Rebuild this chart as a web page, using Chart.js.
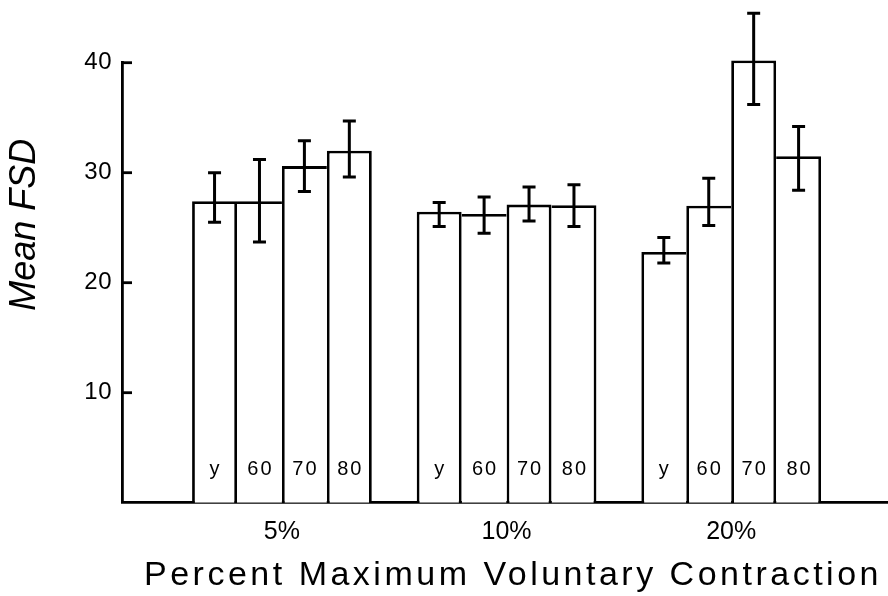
<!DOCTYPE html>
<html>
<head>
<meta charset="utf-8">
<script src="https://cdn.jsdelivr.net/npm/chart.js@4.4.0/dist/chart.umd.min.js"></script>
<style>
  body { margin: 0; background: #fff; }
</style>
</head>
<body>
<canvas id="fsdChart" width="888" height="596"></canvas>
<script>
// contraction levels and age groups
const categories = ['5%', '10%', '20%'];
const groupLabels = ['y', '60', '70', '80'];
const yTicks = [10, 20, 30, 40];

// mean FSD per age group (one value per contraction level)
const meanYoung = [27.4, 26.45, 22.8];
const mean60 = [27.4, 26.25, 27.0];
const mean70 = [30.6, 27.1, 40.2];
const mean80 = [32.0, 27.05, 31.5];

// error bar ends
const lowYoung = [25.5, 25.1, 21.8];
const highYoung = [30.0, 27.3, 24.1];
const low60 = [23.7, 24.5, 25.2];
const high60 = [31.2, 27.8, 29.5];
const low70 = [28.3, 25.6, 36.2];
const high70 = [32.9, 28.7, 44.5];
const low80 = [29.6, 25.1, 28.4];
const high80 = [34.7, 28.9, 34.2];

const means = [meanYoung, mean60, mean70, mean80];
const lows = [lowYoung, low60, low70, low80];
const highs = [highYoung, high60, high70, high80];

const W = 2.8;
const FONT = "'Liberation Sans', Arial, Helvetica, sans-serif";

// draw the shared edge only once, on the taller bar
function edges(s) {
    return function (c) {
        const i = c.dataIndex;
        const v = means[s][i];
        const prev = s > 0 ? means[s - 1][i] : -1;
        const next = s < means.length - 1 ? means[s + 1][i] : -1;
        return { top: W, bottom: 0, left: v > prev ? W : 0, right: v >= next ? W : 0 };
    };
}

// wrap a scale draw step with letter spacing and a small shift
function tweak(scale, fn, sp, dx, dy) {
    if (scale['_tw_' + fn]) return;
    const orig = scale[fn];
    scale[fn] = function () {
        const c = this.ctx;
        c.save();
        c.letterSpacing = sp;
        c.translate(dx, dy);
        orig.apply(this, arguments);
        c.restore();
    };
    scale['_tw_' + fn] = true;
}

const textPlugin = {
    id: 'textTweaks',
    afterLayout(chart) {
        tweak(chart.scales.x, 'drawTitle', '3.5px', 8, 0);
        tweak(chart.scales.y, 'drawLabels', '0.5px', 0, 0);
        tweak(chart.scales.y, 'drawTitle', '0px', 0, -58);
    }
};

const extrasPlugin = {
    id: 'extras',
    afterDatasetsDraw(chart) {
        const ctx = chart.ctx;
        const y = chart.scales.y;
        const area = chart.chartArea;
        ctx.save();
        ctx.strokeStyle = '#000';
        ctx.lineWidth = W;
        ctx.lineCap = 'butt';

        // inward tick marks on the y axis
        yTicks.forEach(v => {
            const py = y.getPixelForValue(v);
            ctx.beginPath();
            ctx.moveTo(area.left, py);
            ctx.lineTo(area.left + 10, py);
            ctx.stroke();
        });

        // error bars
        ctx.lineWidth = 3;
        means.forEach((m, s) => {
            const meta = chart.getDatasetMeta(s);
            meta.data.forEach((bar, i) => {
                const top = y.getPixelForValue(highs[s][i]);
                const bot = y.getPixelForValue(lows[s][i]);
                ctx.beginPath();
                ctx.moveTo(bar.x, top);
                ctx.lineTo(bar.x, bot);
                ctx.moveTo(bar.x - 6.5, top);
                ctx.lineTo(bar.x + 6.5, top);
                ctx.moveTo(bar.x - 6.5, bot);
                ctx.lineTo(bar.x + 6.5, bot);
                ctx.stroke();
            });
        });

        // group labels inside the bars
        ctx.fillStyle = '#000';
        ctx.font = '20px ' + FONT;
        ctx.letterSpacing = '2px';
        ctx.textAlign = 'center';
        ctx.textBaseline = 'middle';
        means.forEach((m, s) => {
            chart.getDatasetMeta(s).data.forEach(bar => {
                ctx.fillText(groupLabels[s], bar.x + 1, area.bottom - 33);
            });
        });
        ctx.restore();
    }
};

const ctx = document.getElementById('fsdChart').getContext('2d');
const fsdChart = new Chart(ctx, {
    type: 'bar',
    data: {
        datasets: means.map((m, s) => ({
            label: groupLabels[s],
            data: m.map((v, i) => ({ x: i + 1, y: v })),
            backgroundColor: '#fff',
            borderColor: '#000',
            borderWidth: edges(s),
            borderSkipped: 'bottom',
            clip: false
        }))
    },
    options: {
        responsive: false,
        animation: false,
        categoryPercentage: 0.8,
        barPercentage: 1.0,
        layout: { padding: { top: 62.7, left: 0, right: 0, bottom: 0 } },
        plugins: {
            legend: { display: false },
            tooltip: { enabled: false }
        },
        scales: {
            x: {
                type: 'linear',
                offset: false,
                bounds: 'data',
                min: 0.288,
                max: 3.698,
                grid: { display: false, drawTicks: false, offset: false },
                border: { display: true, color: '#000', width: W },
                afterBuildTicks: s => { s.ticks = categories.map((c, i) => ({ value: i + 1 })); },
                afterFit: s => { s.height = 93.3; },
                ticks: {
                    color: '#000',
                    padding: 14.5,
                    maxRotation: 0,
                    font: { family: FONT, size: 25 },
                    callback: v => categories[v - 1]
                },
                title: {
                    display: true,
                    text: 'Percent Maximum Voluntary Contraction',
                    color: '#000',
                    padding: 0,
                    font: { family: FONT, size: 34, lineHeight: 1.2 }
                }
            },
            y: {
                min: 0,
                max: 40,
                grid: { display: false, drawTicks: false },
                border: { display: true, color: '#000', width: W },
                afterBuildTicks: s => { s.ticks = yTicks.map(v => ({ value: v })); },
                afterFit: s => { s.width = 122; },
                ticks: {
                    color: '#000',
                    padding: 10,
                    font: { family: FONT, size: 24 }
                },
                title: {
                    display: true,
                    text: 'Mean FSD',
                    color: '#000',
                    padding: { top: 7, bottom: 0 },
                    font: { family: FONT, size: 36, style: 'italic', lineHeight: 1 }
                }
            }
        }
    },
    plugins: [textPlugin, extrasPlugin]
});
</script>
</body>
</html>
